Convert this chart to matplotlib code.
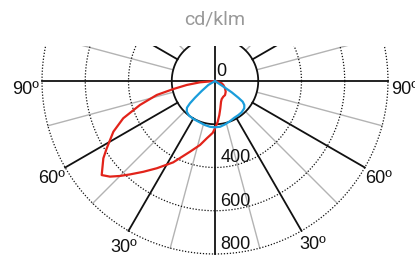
import numpy as np
import matplotlib
matplotlib.use("Agg")
import matplotlib.pyplot as plt

plt.rcParams['font.family'] = ['Liberation Sans Narrow', 'Liberation Sans', 'DejaVu Sans']

# curves: angle from nadir (deg, + to the left), intensity in cd/klm
red_ang = [-90, -71, -64.3, -53.9, -45, -35.5, -27.9, -20.4, -16.2, -11, -7.2, -3.8, -0.9,
           2.5, 8.2, 13.2, 19.5, 27.2, 33.7, 38.3, 42.3, 45, 47.7, 50.3,
           55.3, 58.1, 63.5, 67.9, 72.3, 76.5, 79.1, 82, 85, 90]
red_val = [0, 33, 43, 57, 70, 80, 82, 89, 100, 129, 159, 189, 211,
           240, 268, 304, 347, 423, 485, 535, 584, 621, 657, 681,
           628, 590, 525, 458, 364, 277, 196, 132, 70, 0]

blue_ang = [-90, -56.2, -55.9, -54.4, -53.2, -50.7, -47, -40.5, -34.4, -27.7, -20.6, -13, -6.2,
            0, 6.2, 12.8, 22.3, 29.7, 36.8, 42.7, 46.4, 48.3, 50.1, 53.1, 59.2, 90]
blue_val = [0, 56, 93, 133, 160, 175, 185, 190, 191, 192, 198, 206, 213,
            214, 213, 209, 203, 202, 200, 193, 179, 155, 121, 77, 36, 0]

rings = [200, 400, 600, 800]
ring_labels = ['0', '400', '600', '800']
ring_label_vals = [0, 400, 600, 800]
angle_labels = ['90º', '60º', '30º', '90º', '60º', '30º']
angle_label_pos = [87.3, 59.2, 28.8, -87.3, -59.2, -30.9]

S = 173 / 800.0  # px per cd/klm
W, H = 415, 256
cx, cy = 215, 81
top = 46


def to_xy(ang, val):
    a = np.radians(np.asarray(ang, dtype=float))
    v = np.asarray(val, dtype=float)
    return -v * np.sin(a), -v * np.cos(a)


fig = plt.figure(figsize=(W / 100, H / 100), dpi=100)
ax = fig.add_axes([0, 0, 1, (H - top) / H])
ax.set_xlim(-cx / S, (W - cx) / S)
ax.set_ylim(-(H - cy) / S, (cy - top) / S)
ax.axis('off')

# rings
t = np.linspace(0, 2 * np.pi, 721)
for r in rings:
    if r == 200:
        ax.plot(r * np.cos(t), r * np.sin(t), color='#111111', lw=1.3, zorder=2)
    else:
        ax.plot(r * np.cos(t), r * np.sin(t), color='#111111', lw=0.9,
                ls=(0, (1, 1.4)), zorder=2)

# radial lines
for a in range(0, 360, 15):
    r0 = 0 if a % 90 == 0 else 200
    xs, ys = to_xy([a, a], [r0, 800])
    if a % 30 == 0:
        ax.plot(xs, ys, color='#111111', lw=1.3, zorder=1)
    else:
        ax.plot(xs, ys, color='#b3b3b3', lw=1.0, zorder=1)

# curves
rx, ry = to_xy(red_ang, red_val)
ax.plot(rx, ry, color='#e2231a', lw=1.6, zorder=4, solid_joinstyle='round')
bx, by = to_xy(blue_ang, blue_val)
ax.plot(bx, by, color='#1a9ddb', lw=1.6, zorder=5, solid_joinstyle='round')

# value labels
for lab, v in zip(ring_labels, ring_label_vals):
    x0 = 26 if v else 8
    ax.text(x0, -(v - 45), lab, ha='left', va='center', fontsize=13, color='#111111')

# angle labels
for lab, a in zip(angle_labels, angle_label_pos):
    lx, ly = to_xy([a], [190 / S])
    ax.text(lx[0], ly[0], lab, ha='center', va='center', fontsize=13, color='#111111')

fig.text(cx / W, 1 - 19 / H, 'cd/klm', ha='center', va='center', fontsize=14,
         color='#999999', family=['Roboto', 'DejaVu Sans'])

fig.savefig('out.png', dpi=100)
